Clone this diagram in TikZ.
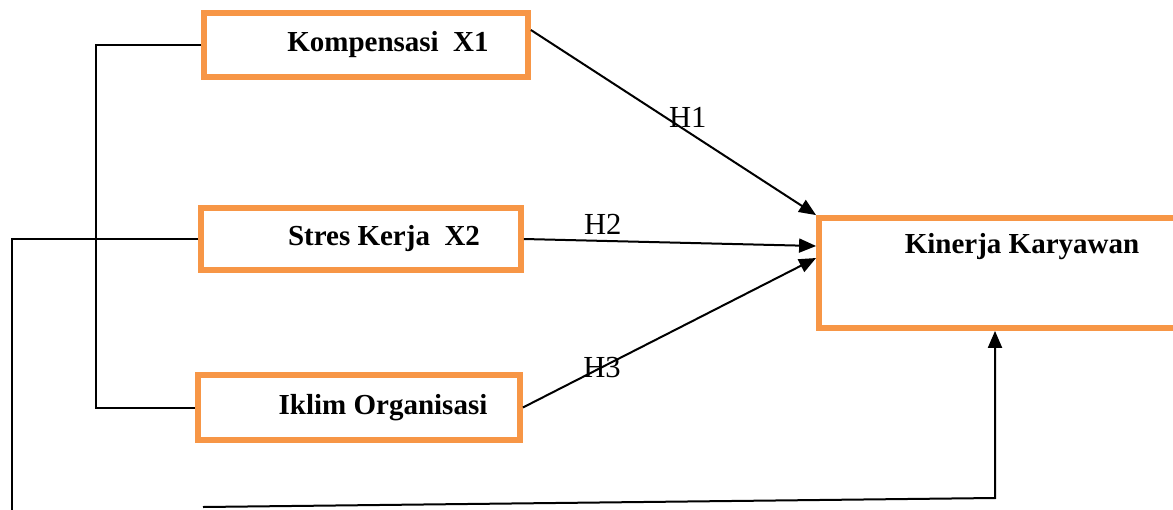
\documentclass[tikz,border=0pt]{standalone}
\usepackage{fontspec}
\setmainfont{Liberation Serif}
\usetikzlibrary{arrows.meta,positioning}
\definecolor{kotak}{RGB}{247,150,70}

\begin{document}
\begin{tikzpicture}[x = 0.5pt, y = -0.5pt, line width = 1pt, >={Triangle[length = 8.5pt, width = 7pt]},
	var/.style = {draw = kotak, line width = 2.9pt, rectangle, inner sep = 0pt, font = \fontsize{14.5}{17}\selectfont\bfseries},
	hyp/.style = {font = \fontsize{15.3}{18}\selectfont, inner sep = 0pt}]
				%	frame
				\useasboundingbox (0, 0) rectangle (1173, 509);
				\clip (0, 0) rectangle (1173, 509);
				
				%	variabel
				\node[var, minimum width = 162pt, minimum height = 32pt] (komp) at (366, 45) {\hspace*{22pt}Kompensasi\ \ X1};
				\node[var, minimum width = 160pt, minimum height = 31pt] (stres) at (361, 239) {\hspace*{23pt}Stres Kerja\ \ X2};
				\node[var, minimum width = 161pt, minimum height = 32.5pt] (iklim) at (359, 407.5) {\hspace*{24pt}Iklim Organisasi};
				\node[var, minimum width = 179pt, minimum height = 55pt] (kin) at (998, 273) {};
				\node[font = \fontsize{14.5}{17}\selectfont\bfseries, inner sep = 0pt] (kinTxt) at (1022, 247) {Kinerja Karyawan};
				
				%	hipotesis
				\draw[->] ([yshift = 7.5pt]komp.east) -- node[hyp, pos = 0.55, yshift = 7pt] (h1) {H1} (kin.north west);
				\draw[->] (stres.east) -- node[hyp, pos = 0.27, yshift = 8.5pt] (h2) {H2} ([yshift = 13.5pt]kin.west);
				\draw[->] (iklim.east) -- node[hyp, pos = 0.27] (h3) {H3} ([yshift = 7.5pt]kin.west);
				
				%	garis kiri
				\draw (komp.west) -- ++(-105, 0) |- (iklim.west);
				
				\coordinate (kiri) at (12, 515);
				\draw (stres.west) -| (kiri);
				
				%	garis bawah
				\coordinate (bawah) at (203, 507);
				\coordinate (sudut) at (995, 498);
				\draw[->] (bawah) -- (sudut) -- (sudut |- kin.south);
				\end{tikzpicture}
\end{document}
